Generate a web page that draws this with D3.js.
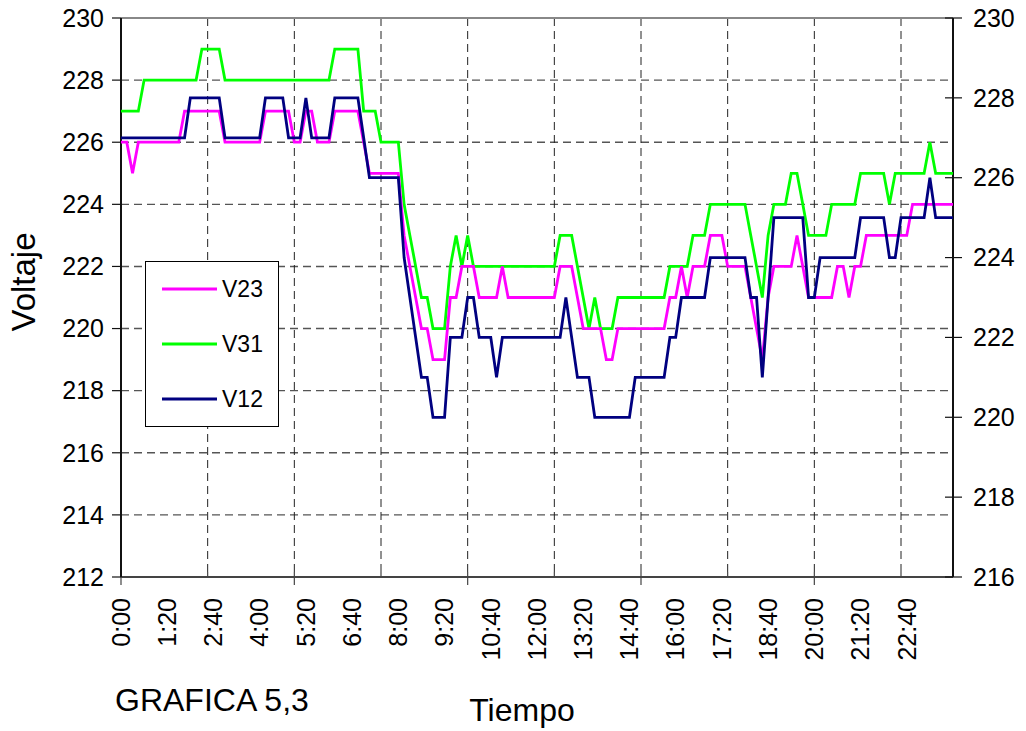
<!DOCTYPE html>
<html>
<head>
<meta charset="utf-8">
<script src="https://cdn.jsdelivr.net/npm/d3@7"></script>
<style>
  html, body { margin: 0; padding: 0; background: #fff; }
  svg { display: block; }
  text { font-family: Arial, "Liberation Sans", sans-serif; fill: #000; }
</style>
</head>
<body>
<svg id="chart" width="1026" height="731"></svg>
<script>
// ---------------- DATA ----------------
// one reading every 10 minutes, 0:00 .. 24:00 (145 readings)
const categories = d3.range(145).map(i => Math.floor(i * 10 / 60) + ":" + String((i * 10) % 60).padStart(2, "0"));

const xTickLabels = ["0:00","1:20","2:40","4:00","5:20","6:40","8:00","9:20","10:40","12:00",
                     "13:20","14:40","16:00","17:20","18:40","20:00","21:20","22:40"];
const leftTicks  = [212,214,216,218,220,222,224,226,228,230];
const rightTicks = [216,218,220,222,224,226,228,230];
const seriesNames = ["V23","V31","V12"];

// V23 (left axis)
const V23 = [
  226,226,225,226,226,226,226,226,226,226,226,
  227,227,227,227,227,227,227,
  226,226,226,226,226,226,226,
  227,227,227,227,227,
  226,226,227,227,226,226,226,
  227,227,227,227,227,
  226,225,225,225,225,225,225,
  223,222,221,220,220,219,219,219,221,221,222,222,222,
  221,221,221,221,222,
  221,221,221,221,221,221,221,221,221,
  222,222,222,221,220,220,220,220,219,219,
  220,220,220,220,220,220,220,220,220,
  221,221,222,221,222,222,222,223,223,223,
  222,222,222,222,221,220,219,221,
  222,222,222,222,223,222,
  221,221,221,221,221,
  222,222,221,222,222,
  223,223,223,223,223,223,223,223,
  224,224,224,224,224,224,224,224
];

// V31 (left axis)
const V31 = [
  227,227,227,227,
  228,228,228,228,228,228,228,228,228,228,
  229,229,229,229,
  228,228,228,228,228,228,228,228,228,228,228,228,228,228,228,228,228,228,228,
  229,229,229,229,229,
  227,227,227,
  226,226,226,226,
  224,223,222,221,221,220,220,220,222,223,222,223,
  222,222,222,222,222,222,222,222,222,222,222,222,222,222,222,
  223,223,223,222,221,220,221,
  220,220,220,
  221,221,221,221,221,221,221,221,221,
  222,222,222,222,
  223,223,223,
  224,224,224,224,224,224,224,
  223,222,221,223,
  224,224,224,
  225,225,224,
  223,223,223,223,
  224,224,224,224,224,
  225,225,225,225,225,
  224,
  225,225,225,225,225,225,
  226,
  225,225,225,225
];

// V12 (right axis)
const V12 = [
  227,227,227,227,227,227,227,227,227,227,227,227,
  228,228,228,228,228,228,
  227,227,227,227,227,227,227,
  228,228,228,228,
  227,227,227,
  228,
  227,227,227,227,
  228,228,228,228,228,
  227,
  226,226,226,226,226,226,
  224,223,222,221,221,220,220,220,
  222,222,222,223,223,222,222,222,221,
  222,222,222,222,222,222,222,222,222,222,222,
  223,222,221,221,221,
  220,220,220,220,220,220,220,
  221,221,221,221,221,221,
  222,222,
  223,223,223,223,223,
  224,224,224,224,224,224,224,
  223,223,221,223,
  225,225,225,225,225,225,
  223,223,
  224,224,224,224,224,224,224,
  225,225,225,225,225,
  224,224,
  225,225,225,225,225,
  226,
  225,225,225,225
];

// ---------------- CHART ----------------
const svg = d3.select("#chart");
const X0 = 121, X1 = 953, Y0 = 18, Y1 = 577;

const x = d3.scalePoint().domain(categories).range([X0, X1]);
const yL = d3.scaleLinear().domain([212, 230]).range([Y1, Y0]);
const yR = d3.scaleLinear().domain([216, 230]).range([Y1, Y0]);

svg.append("rect").attr("width", 1026).attr("height", 731).attr("fill", "#fff");

// horizontal gridlines (left axis)
svg.append("g")
  .selectAll("line")
  .data(leftTicks.filter(v => v > 212 && v < 230))
  .join("line")
  .attr("x1", X0).attr("x2", X1)
  .attr("y1", d => yL(d)).attr("y2", d => yL(d))
  .attr("stroke", "#555").attr("stroke-width", 1.4).attr("stroke-dasharray", "8,5");

// vertical gridlines every 15 readings
const gridCats = categories.filter((c, i) => i > 0 && i % 15 === 0);
svg.append("g")
  .selectAll("line")
  .data(gridCats)
  .join("line")
  .attr("x1", d => x(d)).attr("x2", d => x(d))
  .attr("y1", Y0).attr("y2", Y1)
  .attr("stroke", "#222").attr("stroke-width", 1).attr("stroke-dasharray", "8,5");

// top border
svg.append("line").attr("x1", X0).attr("x2", X1).attr("y1", Y0).attr("y2", Y0)
  .attr("stroke", "#888").attr("stroke-width", 2);

// bottom axis line + ticks
const gB = svg.append("g");
gB.append("line").attr("x1", X0).attr("x2", X1).attr("y1", Y1).attr("y2", Y1)
  .attr("stroke", "#444").attr("stroke-width", 2);
gB.selectAll("line.tk")
  .data(categories.filter((c, i) => i % 15 === 0))
  .join("line").attr("class", "tk")
  .attr("x1", d => x(d)).attr("x2", d => x(d))
  .attr("y1", Y1 - 5)
  .attr("y2", d => (categories.indexOf(d) % 30 === 0) ? Y1 + 8 : Y1)
  .attr("stroke", "#444").attr("stroke-width", 1.2);

// x tick labels
svg.append("g")
  .selectAll("text")
  .data(xTickLabels)
  .join("text")
  .attr("transform", d => `translate(${x(d)},598) rotate(-90)`)
  .attr("text-anchor", "end")
  .attr("dy", "0.35em")
  .style("font-size", "25px")
  .text(d => d);

// left axis
const gL = svg.append("g");
gL.append("line").attr("x1", X0).attr("x2", X0).attr("y1", Y0).attr("y2", Y1)
  .attr("stroke", "#111").attr("stroke-width", 2);
gL.selectAll("line.tk").data(leftTicks).join("line").attr("class", "tk")
  .attr("x1", X0 - 9).attr("x2", X0)
  .attr("y1", d => yL(d)).attr("y2", d => yL(d))
  .attr("stroke", "#111").attr("stroke-width", 1.2);
gL.selectAll("text").data(leftTicks).join("text")
  .attr("x", 104).attr("y", d => yL(d)).attr("dy", "0.35em")
  .attr("text-anchor", "end").style("font-size", "25px")
  .text(d => d);

// right axis
const gR = svg.append("g");
gR.append("line").attr("x1", X1).attr("x2", X1).attr("y1", Y0).attr("y2", Y1)
  .attr("stroke", "#111").attr("stroke-width", 2);
gR.selectAll("line.tk").data(rightTicks).join("line").attr("class", "tk")
  .attr("x1", X1 - 8).attr("x2", X1 + 9)
  .attr("y1", d => yR(d)).attr("y2", d => yR(d))
  .attr("stroke", "#111").attr("stroke-width", 1.2);
gR.selectAll("text").data(rightTicks).join("text")
  .attr("x", 973).attr("y", d => yR(d)).attr("dy", "0.35em")
  .attr("text-anchor", "start").style("font-size", "25px")
  .text(d => d);

// series lines
const series = [
  { name: "V23", values: V23, y: yL, color: "#FF00FF" },
  { name: "V31", values: V31, y: yL, color: "#00FF00" },
  { name: "V12", values: V12, y: yR, color: "#000080" }
];
const drawOrder = ["V31", "V23", "V12"];
drawOrder.forEach(n => {
  const s = series.find(d => d.name === n);
  const line = d3.line().x((v, i) => x(categories[i])).y(v => s.y(v));
  svg.append("path").datum(s.values)
    .attr("d", line).attr("fill", "none")
    .attr("stroke", s.color).attr("stroke-width", 2.8)
    .attr("stroke-linejoin", "miter");
});

// legend
const lg = svg.append("g");
lg.append("rect").attr("x", 145.5).attr("y", 261.5).attr("width", 133).attr("height", 165)
  .attr("fill", "#fff").attr("stroke", "#000").attr("stroke-width", 1);
seriesNames.forEach((n, k) => {
  const s = series.find(d => d.name === n);
  const yy = 289 + k * 55;
  lg.append("line").attr("x1", 162).attr("x2", 217).attr("y1", yy).attr("y2", yy)
    .attr("stroke", s.color).attr("stroke-width", 2.8);
  lg.append("text").attr("x", 222).attr("y", yy).attr("dy", "0.35em")
    .style("font-size", "23px").text(n);
});

// titles
svg.append("text").attr("transform", "translate(23,282) rotate(-90)")
  .attr("text-anchor", "middle").attr("dy", "0.35em")
  .style("font-size", "33px").text("Voltaje");
svg.append("text").attr("x", 522).attr("y", 721).attr("text-anchor", "middle")
  .style("font-size", "32px").text("Tiempo");
svg.append("text").attr("x", 115).attr("y", 711).attr("text-anchor", "start")
  .style("font-size", "32px").text("GRAFICA 5,3");
</script>
</body>
</html>
